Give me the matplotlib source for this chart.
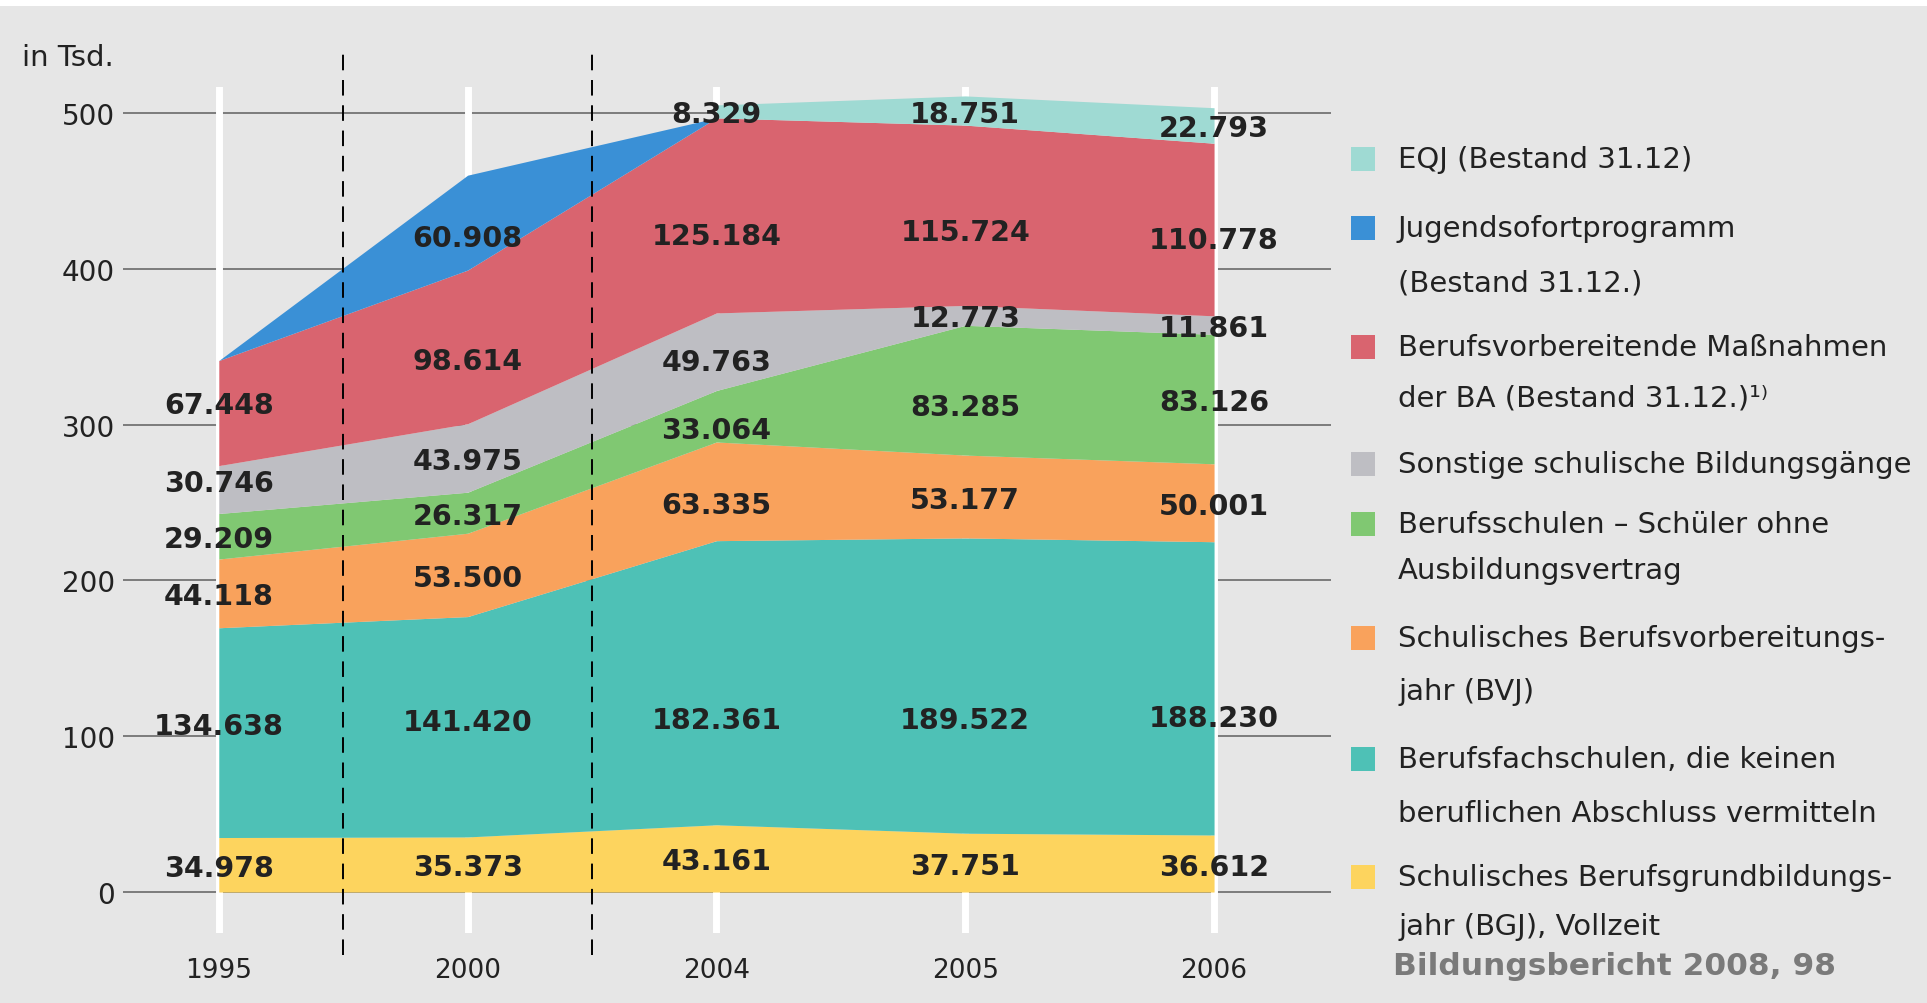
import matplotlib
matplotlib.use("Agg")
import matplotlib.pyplot as plt
from matplotlib.patches import Rectangle
import numpy as np

# ---------------- data ----------------
years = ["1995", "2000", "2004", "2005", "2006"]
bgj = [34.978, 35.373, 43.161, 37.751, 36.612]          # Schulisches Berufsgrundbildungsjahr
bfs = [134.638, 141.420, 182.361, 189.522, 188.230]     # Berufsfachschulen
bvj = [44.118, 53.500, 63.335, 53.177, 50.001]          # Schulisches BVJ
bs = [29.209, 26.317, 33.064, 83.285, 83.126]           # Berufsschulen ohne Ausbildungsvertrag
sonst = [30.746, 43.975, 49.763, 12.773, 11.861]        # Sonstige schulische Bildungsgänge
ba = [67.448, 98.614, 125.184, 115.724, 110.778]        # Berufsvorbereitende Maßnahmen der BA
jsp = [0, 60.908, 0, 0, 0]                              # Jugendsofortprogramm
eqj = [np.nan, np.nan, 8.329, 18.751, 22.793]           # EQJ (ab 2004)

series = [bgj, bfs, bvj, bs, sonst, ba, jsp, eqj]
colors = ["#FDD45E", "#4EC1B6", "#F9A25C", "#80C872", "#BEBEC3",
          "#D9646F", "#3A90D6", "#9FDAD3"]
legend_lines = [
    ["EQJ (Bestand 31.12)"],
    ["Jugendsofortprogramm", "(Bestand 31.12.)"],
    ["Berufsvorbereitende Maßnahmen", "der BA (Bestand 31.12.)¹⁾"],
    ["Sonstige schulische Bildungsgänge"],
    ["Berufsschulen – Schüler ohne", "Ausbildungsvertrag"],
    ["Schulisches Berufsvorbereitungs-", "jahr (BVJ)"],
    ["Berufsfachschulen, die keinen", "beruflichen Abschluss vermitteln"],
    ["Schulisches Berufsgrundbildungs-", "jahr (BGJ), Vollzeit"],
]
legend_colors = colors[::-1]
yticks = [0, 100, 200, 300, 400, 500]
source = "Bildungsbericht 2008, 98"
unit = "in Tsd."

# label nudges (layer index, year index) -> vertical shift in axis units (placement only)
nudge = {(1, 0): 6, (1, 1): 5, (4, 0): 6, (5, 0): 7,
         (1, 2): -22, (1, 3): -20, (1, 4): -17,
         (5, 1): -7, (5, 2): -11, (5, 3): -9, (5, 4): -5, (6, 1): -8,
         (2, 2): -7, (3, 2): -7, (3, 3): -9, (4, 2): -5}

# ---------------- style ----------------
plt.rcParams["font.family"] = ["DejaVu Sans"]
BG = "#E6E6E6"
TXT = "#222222"
W, H = 1927, 1004
fig = plt.figure(figsize=(W / 100, H / 100), dpi=100, facecolor=BG)

# white strip at top
fig.patches.append(Rectangle((0, 1 - 7 / H), 1, 7 / H, transform=fig.transFigure,
                             facecolor="white", edgecolor="none", zorder=0))

ax = fig.add_axes([123 / W, 70 / H, (1331 - 123) / W, (934 - 88) / H])
ax.patch.set_alpha(0)
x = np.arange(len(years))
ax.set_xlim(-0.385, 4.47)
ax.set_ylim(-26.3, 516.7)
for s in ax.spines.values():
    s.set_visible(False)

# gridlines
for v in yticks:
    ax.axhline(v, color="#6A6A6A", lw=1.2, zorder=1)
# white year columns
for xi in x:
    ax.axvline(xi, color="white", lw=5, zorder=1.5)

# stacked areas
base = np.zeros(len(years))
label_pos = []
for k, (vals, c) in enumerate(zip(series, colors)):
    v = np.array(vals, dtype=float)
    top = base + np.nan_to_num(v)
    lower = np.where(np.isnan(v), np.nan, base)
    upper = np.where(np.isnan(v), np.nan, top)
    ax.fill_between(x, lower, upper, color=c, lw=0, zorder=2)
    for i in range(len(years)):
        if not np.isnan(v[i]) and v[i] > 0:
            label_pos.append((x[i], base[i] + v[i] / 2 + nudge.get((k, i), 0), v[i]))
    base = top

for xi, yi, v in label_pos:
    ax.text(xi, yi, f"{v:.3f}", ha="center", va="center_baseline",
            fontsize=20.5, fontweight="bold", color=TXT, zorder=4)

# dashed separators
for xd in [0.5, 1.5]:
    ax.axvline(xd, ymin=-0.026, ymax=1.048, color="black", lw=1.4,
               dashes=(8, 5), zorder=3, clip_on=False)

ax.set_yticks(yticks)
ax.set_yticklabels([str(v) for v in yticks])
ax.set_xticks(x)
ax.set_xticklabels(years)
ax.tick_params(axis="y", length=0, pad=6, labelsize=20, labelcolor=TXT)
ax.tick_params(axis="x", length=0, pad=17, labelsize=19, labelcolor=TXT)

fig.text(22 / W, 1 - 58 / H, unit, fontsize=21, color=TXT, va="center", ha="left")

# legend (manual)
line_y = [[160], [229, 284], [348, 399], [465], [525, 571], [639, 692], [760, 814], [878, 927]]
for lines, ys, c in zip(legend_lines, line_y, legend_colors):
    sq = 24
    fig.patches.append(Rectangle((1351 / W, 1 - (ys[0] + sq / 2) / H), sq / W, sq / H,
                                 transform=fig.transFigure, facecolor=c,
                                 edgecolor="none"))
    for t, yy in zip(lines, ys):
        fig.text(1398 / W, 1 - yy / H, t, fontsize=21, color=TXT,
                 va="center", ha="left")

fig.text(1393 / W, 1 - 967 / H, source, fontsize=22.5, fontweight="bold",
         color="#7A7A7A", va="center", ha="left")

fig.savefig("out.png", dpi=100, facecolor=BG)
